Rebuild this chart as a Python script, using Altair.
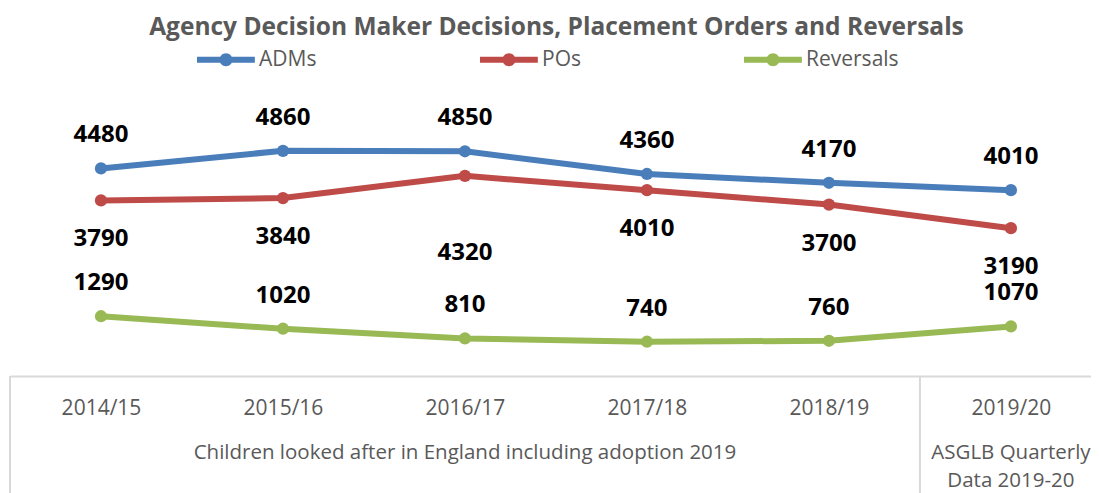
import json
import altair as alt
import pandas as pd

# ---- data ----
years = ["2014/15", "2015/16", "2016/17", "2017/18", "2018/19", "2019/20"]
series = ["ADMs", "POs", "Reversals"]
adms = [4480, 4860, 4850, 4360, 4170, 4010]
pos = [3790, 3840, 4320, 4010, 3700, 3190]
reversals = [1290, 1020, 810, 740, 760, 1070]
sources = ["Children looked after in England including adoption 2019"] * 5 + ["ASGLB Quarterly\nData 2019-20"]
colors = ["#4a7ebb", "#be4b48", "#98b954"]

rows = []
for name, vals in zip(series, [adms, pos, reversals]):
    for i, (yr, v) in enumerate(zip(years, vals)):
        rows.append({"series": name, "year": yr, "idx": i, "value": v})
df = pd.DataFrame(rows)

src_df = pd.DataFrame({"idx": list(range(len(years))), "source": sources})
# boundaries: start of the axis and each change of source
bounds = [-0.5] + [i - 0.5 for i in range(1, len(sources)) if sources[i] != sources[i - 1]]
bound_df = pd.DataFrame({"b": bounds})

W, H = 1081, 278
FONT = "Open Sans"
GRAY = "#595959"
LINE = "#d9d9d9"

xscale = alt.Scale(domain=[-0.5, 5.44], nice=False, zero=False)
yscale = alt.Scale(domain=[0, 6000], nice=False)

label_expr = json.dumps(years) + "[datum.value]"

legend_path = ("M-1,-0.46 L7.9,-0.46 L7.9,0.46 L-1,0.46 Z "
               "M2.46,0 A1,1 0 1,1 4.46,0 A1,1 0 1,1 2.46,0 Z")

base = alt.Chart(df).encode(
    x=alt.X("idx:Q", scale=xscale,
            axis=alt.Axis(values=list(range(len(years))), labelExpr=label_expr,
                          title=None, ticks=False, grid=False,
                          domainColor=LINE, domainWidth=2,
                          labelFont=FONT, labelFontSize=21, labelColor=GRAY,
                          labelPadding=21, labelOverlap=False, labelFlush=False)),
    y=alt.Y("value:Q", scale=yscale, axis=None),
    color=alt.Color("series:N", scale=alt.Scale(domain=series, range=colors),
                    legend=alt.Legend(title=None, orient="none", legendX=183, legendY=-49,
                                      direction="horizontal", symbolType=legend_path,
                                      symbolSize=169, symbolStrokeWidth=0, symbolOpacity=1,
                                      labelFont=FONT, labelFontSize=21, labelColor=GRAY,
                                      labelOffset=45, columnPadding=159, gridAlign="each")),
)

lines = base.mark_line(strokeWidth=6)
points = base.mark_circle(size=150, opacity=1)

lab = alt.Chart(df).encode(
    x=alt.X("idx:Q", scale=xscale), y=alt.Y("value:Q", scale=yscale), text="value:Q")

def lab_layer(dy, cond):
    return lab.mark_text(font=FONT, fontSize=24, fontWeight="bold", color="black",
                         baseline="middle", dy=dy).transform_filter(cond)

lab_above = lab_layer(-33, "datum.series != 'POs'")
lab_po = lab_layer(39, "datum.series == 'POs' && datum.year != '2016/17'")
lab_po2 = lab_layer(77, "datum.series == 'POs' && datum.year == '2016/17'")

rules = alt.Chart(bound_df).mark_rule(color=LINE, strokeWidth=2).encode(
    x=alt.X("b:Q", scale=xscale), y=alt.value(H), y2=alt.value(H + 130))

groups = alt.Chart(src_df).transform_aggregate(
    mid="mean(idx)", groupby=["source"]).mark_text(
    font=FONT, fontSize=20.5, color=GRAY, baseline="top", lineBreak="\n", lineHeight=28
).encode(x=alt.X("mid:Q", scale=xscale), y=alt.value(H + 67), text="source:N")

chart = alt.layer(rules, lines, points, lab_above, lab_po, lab_po2, groups).properties(
    width=W, height=H,
    title=alt.TitleParams(text="Agency Decision Maker Decisions, Placement Orders and Reversals",
                          font=FONT, fontSize=24.5, fontWeight="bold", color=GRAY,
                          anchor="middle", frame="group", offset=-15, baseline="bottom", dx=6),
    padding={"left": 2, "right": 0, "top": 90, "bottom": 117},
    autosize=alt.AutoSizeParams(type="none"),
).configure_view(stroke=None)

chart.save("out.html", embed_options={"renderer": "svg", "actions": False})
